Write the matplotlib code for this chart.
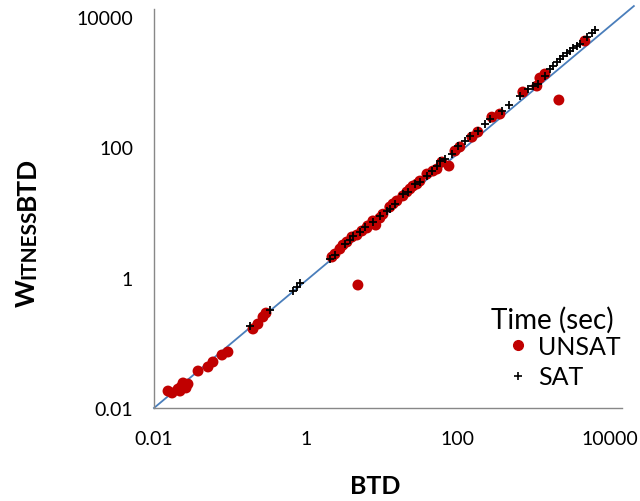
import matplotlib
matplotlib.use("Agg")
import matplotlib.pyplot as plt
from matplotlib.lines import Line2D
from matplotlib.transforms import IdentityTransform

plt.rcParams['font.family'] = ['Lato', 'DejaVu Sans']

# UNSAT points (BTD time, WitnessBTD time) in seconds
unsat_btd = [0.0207, 0.0227, 0.0248, 0.0264, 0.0241, 0.022, 0.0153, 0.0173, 0.028,
             0.038, 0.0514, 0.0597, 0.0785, 0.094, 0.201, 0.233, 0.272, 0.298,
             2.2, 2.41, 2.8, 3.07, 3.46, 4.03, 4.69, 4.83, 5.45, 6.35, 6.5, 7.6, 8.3,
             9.4, 10.3, 12.7, 14, 15.7, 18.9, 21.3, 23.4, 25.6, 28.9, 31.6, 39.1,
             46.9, 53, 61.5, 76.2, 91.4, 106, 153, 183, 280, 357, 716, 1095, 1200,
             1396, 2133, 4690]
unsat_wit = [0.0195, 0.021, 0.0225, 0.0203, 0.0242, 0.0182, 0.0182, 0.017, 0.0233,
             0.0369, 0.0426, 0.0508, 0.065, 0.0723, 0.163, 0.194, 0.249, 0.286,
             2.07, 2.30, 2.75, 3.16, 3.52, 4.2, 4.5, 0.77, 5.19, 5.77, 6.2, 7.4, 6.4,
             8.2, 9.4, 12.1, 13.5, 15.0, 17.9, 20.6, 22.9, 25.4, 27.3, 30.3, 38.8,
             43.1, 46.3, 59.3, 51.5, 87.5, 101, 143, 171, 290, 323, 703, 869, 1151,
             1327, 530, 4256]

# SAT points
sat_btd = [0.183, 0.336, 0.674, 0.762, 0.834, 2.07, 2.41, 3.26, 3.8, 4.15, 5.14,
           5.97, 7.6, 9.42, 11.6, 12.7, 14.8, 18.9, 22, 27.2, 31.6, 39.1, 45.5, 53,
           58, 67.5, 83.4, 100, 124, 144, 183, 226, 264, 379, 469, 655, 834,
           971, 1130, 1396, 1626, 1778, 2009, 2198, 2410, 2718, 2978, 3260, 3681,
           4027, 4977, 5794, 6353]
sat_wit = [0.181, 0.318, 0.622, 0.718, 0.826, 1.93, 2.22, 3.27, 3.78, 4.35, 5.0,
           5.97, 7.13, 8.8, 10.5, 11.3, 13.4, 19.1, 20.6, 27.3, 29.3, 36.1, 43.1, 51.5,
           61.4, 65.9, 78.7, 104, 124, 149, 177, 227, 271, 359, 444, 610, 782,
           869, 932, 1236, 1582, 1758, 2026, 2254, 2506, 2786, 2987, 3319, 3564,
           3828, 4898, 5649, 6281]

diag_x = [0.01, 20700]
diag_y = [0.01, 14650]

tick_vals = [0.01, 1, 100, 10000]
tick_labels = ['0.01', '1', '100', '10000']

W, H = 640, 502
fig = plt.figure(figsize=(W / 100, H / 100), dpi=100)
ax = fig.add_axes([154 / W, 1 - 409 / H, (622 - 154) / W, (409 - 10) / H])
ax.set_xscale('log')
ax.set_yscale('log')
ax.set_xlim(0.01, 14450)
ax.set_ylim(0.01, 13200)

ax.plot(diag_x, diag_y, color='#4A7EBB', lw=1.3, clip_on=False, zorder=2)
ax.scatter(unsat_btd, unsat_wit, s=62, color='#C00000', edgecolors='none', zorder=3, clip_on=False)
ax.scatter(sat_btd, sat_wit, s=40, marker='+', color='black', linewidths=1.3, zorder=4, clip_on=False)

for side in ['top', 'right']:
    ax.spines[side].set_visible(False)
for side in ['left', 'bottom']:
    ax.spines[side].set_color('#888888')
    ax.spines[side].set_linewidth(1.0)

ax.set_xticks(tick_vals)
ax.set_xticklabels(tick_labels)
ax.set_yticks(tick_vals)
ax.set_yticklabels(tick_labels)
ax.minorticks_off()
ax.tick_params(axis='both', length=0, labelsize=14, colors='black')
ax.tick_params(axis='x', pad=16)
ax.tick_params(axis='y', pad=15)

fig.text(375 / W, 1 - 487 / H, 'BTD', fontsize=18, fontweight='bold', ha='center', va='center')

# y label with small caps style: W + ITNESS (small) + BTD
renderer = fig.canvas.get_renderer()
ypos = H - 307
xb = 35
for s, size in [('W', 19), ('ITNESS', 15), ('BTD', 19)]:
    t = fig.text(xb, ypos, s, fontsize=size, fontweight='bold', rotation=90,
                 rotation_mode='anchor', ha='left', va='baseline', transform=IdentityTransform())
    bb = t.get_window_extent(renderer)
    ypos += bb.height

# legend
fig.text(491 / W, 1 - 320 / H, 'Time (sec)', fontsize=20, ha='left', va='center')
handles = [Line2D([], [], ls='none', marker='o', color='#C00000', markersize=7),
           Line2D([], [], ls='none', marker='+', color='black', markersize=6, markeredgewidth=1.2)]
ax.legend(handles, ['UNSAT', 'SAT'], loc='upper left', bbox_to_anchor=(508 / W, 1 - 336 / H),
          bbox_transform=fig.transFigure, frameon=False, fontsize=18, borderpad=0,
          handlelength=0.8, handletextpad=0.4, labelspacing=0.3, borderaxespad=0)

fig.savefig('out.png', dpi=100)
